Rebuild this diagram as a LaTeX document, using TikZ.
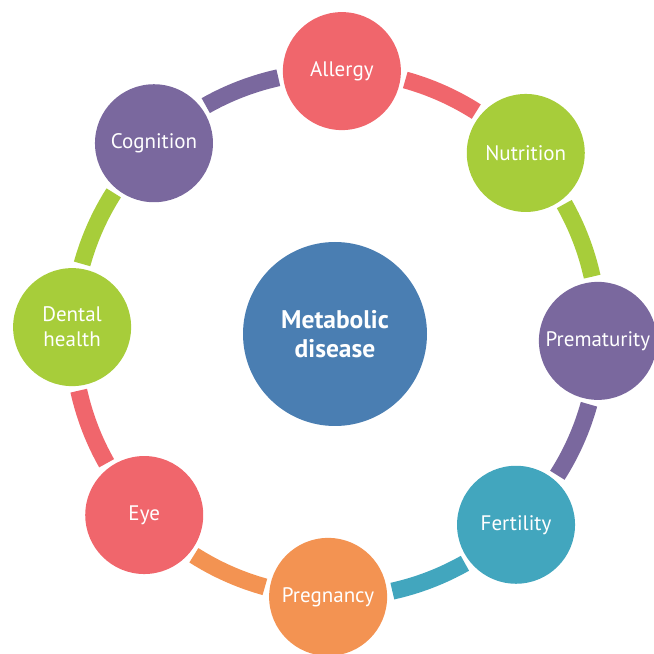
\documentclass[tikz,border=0pt]{standalone}
\usepackage{fontspec}
\setmainfont{PT Sans}
\definecolor{cpink}{RGB}{240,102,108}
\definecolor{cgreen}{RGB}{167,205,58}
\definecolor{cpurple}{RGB}{122,104,158}
\definecolor{cteal}{RGB}{66,166,190}
\definecolor{corange}{RGB}{243,147,82}
\definecolor{cblue}{RGB}{74,126,178}
\begin{document}
\begin{tikzpicture}[x=1pt,y=1pt,
  bubble/.style={circle, minimum size=118pt, inner sep=0pt, outer sep=5pt,
    text=white, align=center, font=\fontsize{21}{25}\selectfont},
  hubnode/.style={circle, minimum size=184pt, inner sep=0pt, fill=cblue,
    text=white, align=center, font=\bfseries\fontsize{25.5}{28.5}\selectfont},
  link/.style={line width=17pt, line cap=butt}]
\useasboundingbox (0,0) rectangle (654,654);
\coordinate (C) at (335,320);

% central topic
\node[hubnode] (hub) at (C) {Metabolic\\disease};

% ring of related topics
\begin{scope}[shift={(C)}]
  \node[bubble, fill=cpink]   (allergy)  at (88.5:263)   {Allergy};
  \node[bubble, fill=cgreen]  (nutrition) at (43.5:263)  {Nutrition};
  \node[bubble, fill=cpurple] (premat)   at (-1.5:263)   {Prematurity};
  \node[bubble, fill=cteal]   (fert)     at (-46.5:263)  {Fertility};
  \node[bubble, fill=corange] (preg)     at (-91.5:263)  {Pregnancy};
  \node[bubble, fill=cpink]   (eye)      at (-136.5:263) {Eye};
  \node[bubble, fill=cgreen]  (dental)   at (178.5:263)  {Dental\\health};
  \node[bubble, fill=cpurple] (cog)      at (133.5:263)  {Cognition};
\end{scope}

% ring segments, each in the colour of the topic it leaves
\draw[link, cpink]   (allergy.-8.5)  arc[start angle=74.5,   end angle=57.5,   radius=263];
\draw[link, cgreen]  (nutrition.-53.5) arc[start angle=29.5, end angle=12.5,   radius=263];
\draw[link, cpurple] (premat.-98.5)  arc[start angle=-15.5,  end angle=-32.5,  radius=263];
\draw[link, cteal]   (fert.-143.5)   arc[start angle=-60.5,  end angle=-77.5,  radius=263];
\draw[link, corange] (preg.171.5)    arc[start angle=-105.5, end angle=-122.5, radius=263];
\draw[link, cpink]   (eye.126.5)     arc[start angle=-150.5, end angle=-167.5, radius=263];
\draw[link, cgreen]  (dental.81.5)   arc[start angle=164.5,  end angle=147.5,  radius=263];
\draw[link, cpurple] (cog.36.5)      arc[start angle=119.5,  end angle=102.5,  radius=263];
\end{tikzpicture}
\end{document}
